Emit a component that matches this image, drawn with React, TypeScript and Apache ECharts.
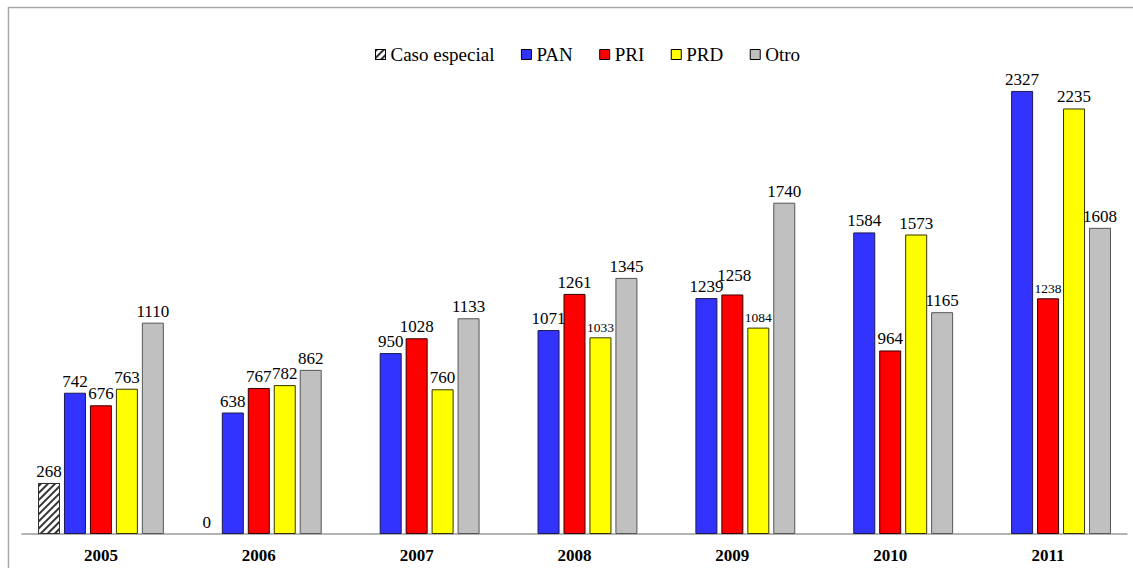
import React, { useEffect, useRef } from "react";
import * as echarts from "echarts";

const years = ["2005", "2006", "2007", "2008", "2009", "2010", "2011"];
const casoEspecial = [268, 0, null, null, null, null, null];
const pan = [742, 638, 950, 1071, 1239, 1584, 2327];
const pri = [676, 767, 1028, 1261, 1258, 964, 1238];
const prd = [763, 782, 760, 1033, 1084, 1573, 2235];
const otro = [1110, 862, 1133, 1345, 1740, 1165, 1608];
// indices whose labels are drawn in a smaller font in the original
const priSmall = [6];
const prdSmall = [3, 4];
// indices whose labels sit a little higher to avoid a neighbour
const priRaised = [4];

const FONT = "Liberation Serif";

function withLabels(values: (number | null)[], small: number[], raised: number[] = []) {
  return values.map((v, i) => {
    const lab: any = {};
    if (small.indexOf(i) >= 0) lab.fontSize = 13.5;
    if (raised.indexOf(i) >= 0) lab.offset = [2, -7];
    return Object.keys(lab).length ? { value: v, label: lab } : v;
  });
}

export default function App() {
  const ref = useRef<HTMLDivElement>(null);
  useEffect(() => {
    if (!ref.current) return;
    const chart = echarts.init(ref.current, null, { renderer: "svg" });
    const label = {
      show: true,
      position: "top",
      distance: 3,
      color: "#000",
      fontFamily: FONT,
      fontSize: 17,
    };
    const mk = (name: string, data: any[], color: string, border: string, extra: any = {}) => ({
      name,
      type: "bar",
      data,
      barWidth: 22,
      barGap: "18%",
      label,
      itemStyle: { color, borderColor: border, borderWidth: 1, ...extra },
    });
    const casoData = casoEspecial.map((v) =>
      v === 0 ? { value: v, itemStyle: { borderWidth: 0 } } : v
    );
    chart.setOption({
      animation: false,
      backgroundColor: "#fff",
      textStyle: { fontFamily: FONT },
      graphic: [
        {
          type: "rect",
          shape: { x: 8.5, y: 7.5, width: 1400, height: 1000 },
          style: { fill: "none", stroke: "#a8a8a8", lineWidth: 1.5 },
          silent: true,
        },
      ],
      legend: {
        top: 40,
        left: 370,
        icon: "rect",
        itemWidth: 10,
        itemHeight: 10,
        itemGap: 26.5,
        textStyle: { fontFamily: FONT, fontSize: 19, color: "#000" },
        itemStyle: { borderColor: "#000", borderWidth: 1 },
        data: ["Caso especial", "PAN", "PRI", "PRD", "Otro"],
      },
      grid: { left: 22, right: 6, top: 58, bottom: 34 },
      xAxis: {
        type: "category",
        data: years,
        axisLine: { lineStyle: { color: "#9a9a9a", width: 1.5 } },
        axisTick: { show: false },
        axisLabel: {
          color: "#000",
          fontFamily: FONT,
          fontWeight: "bold",
          fontSize: 17,
          margin: 13,
        },
      },
      yAxis: {
        type: "value",
        min: 0,
        max: 2500,
        show: false,
        splitLine: { show: false },
      },
      series: [
        mk("Caso especial", casoData, "#ffffff", "#333", {
          decal: {
            symbol: "rect",
            color: "#333",
            backgroundColor: "#ffffff",
            dashArrayX: [1, 0],
            dashArrayY: [1.5, 3],
            rotation: -Math.PI / 4,
          },
        }),
        mk("PAN", pan, "#3333ff", "#1a1a4d"),
        mk("PRI", withLabels(pri, priSmall, priRaised), "#ff0000", "#330000"),
        mk("PRD", withLabels(prd, prdSmall), "#ffff00", "#333300"),
        mk("Otro", otro, "#c0c0c0", "#555555"),
      ],
    });
    return () => chart.dispose();
  }, []);
  return (
    <div
      ref={ref}
      style={{ position: "fixed", left: 0, top: 0, width: 1133, height: 568 }}
    />
  );
}
